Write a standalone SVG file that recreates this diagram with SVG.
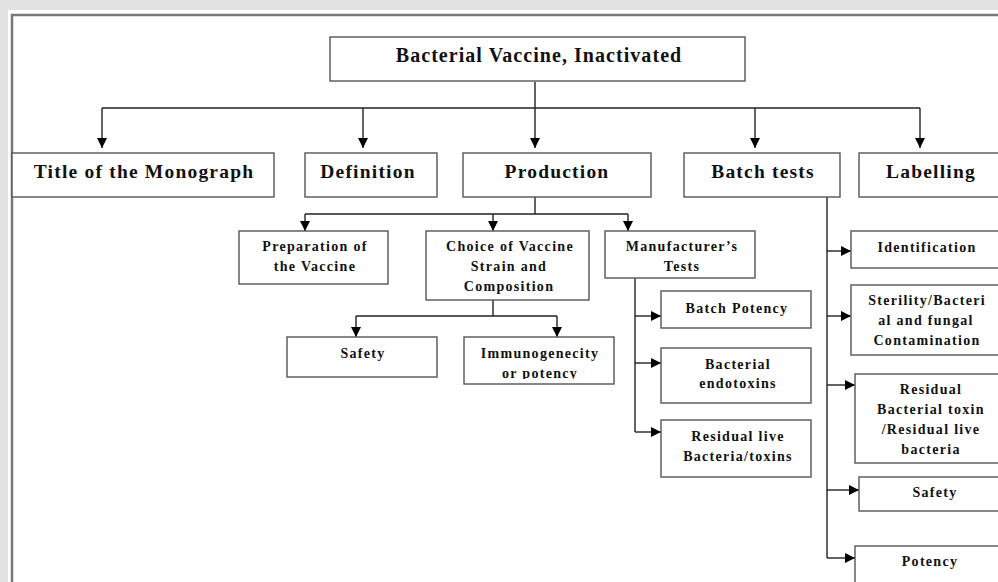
<svg xmlns="http://www.w3.org/2000/svg" width="998" height="582" viewBox="0 0 998 582">
<defs>
<marker id="ah" viewBox="0 0 10 10" refX="10" refY="5" markerWidth="10" markerHeight="10" markerUnits="userSpaceOnUse" orient="auto">
<path d="M0,0 L10,5 L0,10 z" fill="#000"/>
</marker>
<clipPath id="imclip"><rect x="464" y="337" width="150" height="42"/></clipPath>
</defs>
<style>
.bx{fill:#fff;stroke:#555;stroke-width:1.4}
.ln{fill:none;stroke:#222;stroke-width:1.4}
.ar{fill:none;stroke:#222;stroke-width:1.4;marker-end:url(#ah)}
text{font-family:"Liberation Serif","Times New Roman",serif;font-weight:bold;fill:#111;text-anchor:middle}
.t1{font-size:20px;letter-spacing:1.05px}
.t2{font-size:19.5px;letter-spacing:1.2px}
.t3{font-size:14px;letter-spacing:1.3px}
</style>
<rect x="0" y="0" width="998" height="582" fill="#e2e2e2"/>
<rect x="8" y="10" width="990" height="572" fill="#fff"/>
<path d="M12,582 V15 H998" fill="none" stroke="#777" stroke-width="2.5"/>

<g id="connectors">
<path class="ln" d="M535,82 V108 M102,108 H920"/>
<path class="ar" d="M102,108 V148"/>
<path class="ar" d="M363,108 V148"/>
<path class="ar" d="M535,108 V148"/>
<path class="ar" d="M755,108 V148"/>
<path class="ar" d="M920,108 V148"/>
<path class="ln" d="M535,197 V214 M305,214 H628"/>
<path class="ar" d="M305,214 V231"/>
<path class="ar" d="M493,214 V231"/>
<path class="ar" d="M628,214 V231"/>
<path class="ln" d="M493,300 V316 M356,316 H557"/>
<path class="ar" d="M356,316 V337"/>
<path class="ar" d="M557,316 V337"/>
<path class="ln" d="M635,278 V432"/>
<path class="ar" d="M635,316 H661"/>
<path class="ar" d="M635,363 H661"/>
<path class="ar" d="M635,432 H661"/>
<path class="ln" d="M827,197 V558"/>
<path class="ar" d="M827,251 H851"/>
<path class="ar" d="M827,316 H851"/>
<path class="ar" d="M827,385 H855"/>
<path class="ar" d="M827,490 H859"/>
<path class="ar" d="M827,558 H855"/>
</g>

<g id="root"><rect class="bx" x="330" y="37" width="415" height="44"/><text class="t1" x="539" y="62">Bacterial Vaccine, Inactivated</text></g>

<g id="title"><rect class="bx" x="12" y="153" width="262" height="44"/><text class="t2" x="144" y="178">Title of the Monograph</text></g>
<g id="definition"><rect class="bx" x="305" y="153" width="132" height="44"/><text class="t2" x="368" y="178">Definition</text></g>
<g id="production"><rect class="bx" x="463" y="153" width="188" height="44"/><text class="t2" x="557" y="178">Production</text></g>
<g id="batchtests"><rect class="bx" x="684" y="153" width="156" height="44"/><text class="t2" x="763" y="178">Batch tests</text></g>
<g id="labelling"><rect class="bx" x="859" y="153" width="150" height="44"/><text class="t2" x="931" y="178">Labelling</text></g>

<g id="preparation"><rect class="bx" x="239" y="231" width="149" height="53"/><text class="t3" x="315" y="251">Preparation of</text><text class="t3" x="315" y="271">the Vaccine</text></g>
<g id="choice"><rect class="bx" x="426" y="231" width="163" height="69"/><text class="t3" x="510" y="251">Choice of  Vaccine</text><text class="t3" x="509" y="271">Strain and</text><text class="t3" x="509" y="291">Composition</text></g>
<g id="manufacturer"><rect class="bx" x="605" y="231" width="150" height="47"/><text class="t3" x="682" y="251">Manufacturer’s</text><text class="t3" x="682" y="271">Tests</text></g>

<g id="safety1"><rect class="bx" x="287" y="337" width="150" height="40"/><text class="t3" x="363" y="358">Safety</text></g>
<g id="immuno"><rect class="bx" x="464" y="337" width="150" height="47"/><g clip-path="url(#imclip)"><text class="t3" x="540" y="358">Immunogenecity</text><text class="t3" x="540" y="378">or potency</text></g></g>

<g id="batchpotency"><rect class="bx" x="661" y="291" width="150" height="37"/><text class="t3" x="737" y="313">Batch Potency</text></g>
<g id="endotoxins"><rect class="bx" x="661" y="348" width="150" height="55"/><text class="t3" x="738" y="369">Bacterial</text><text class="t3" x="738" y="388">endotoxins</text></g>
<g id="residual1"><rect class="bx" x="661" y="420" width="150" height="57"/><text class="t3" x="738" y="441">Residual live</text><text class="t3" x="738" y="461">Bacteria/toxins</text></g>

<g id="identification"><rect class="bx" x="851" y="231" width="160" height="37"/><text class="t3" x="927" y="252">Identification</text></g>
<g id="sterility"><rect class="bx" x="851" y="285" width="160" height="70"/><text class="t3" x="927" y="305">Sterility/Bacteri</text><text class="t3" x="926" y="325">al and fungal</text><text class="t3" x="927" y="345">Contamination</text></g>
<g id="residual2"><rect class="bx" x="855" y="374" width="160" height="89"/><text class="t3" x="931" y="394">Residual</text><text class="t3" x="931" y="414">Bacterial toxin</text><text class="t3" x="931" y="434">/Residual live</text><text class="t3" x="931" y="454">bacteria</text></g>
<g id="safety2"><rect class="bx" x="859" y="477" width="160" height="34"/><text class="t3" x="935" y="497">Safety</text></g>
<g id="potency"><rect class="bx" x="855" y="546" width="160" height="50"/><text class="t3" x="930" y="566">Potency</text></g>
</svg>
